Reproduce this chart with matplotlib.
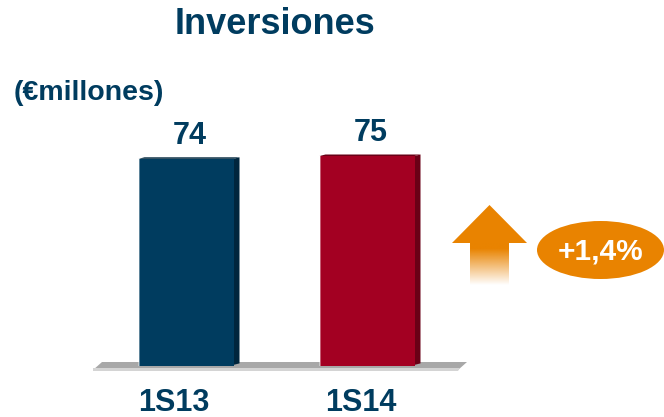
import numpy as np
import matplotlib.pyplot as plt
from matplotlib.patches import Polygon, Ellipse

periodos = ["1S13", "1S14"]
inversion = [74, 75]
colores = ["#003c5f", "#a30022"]
lados = ["#00263d", "#6a0016"]
variacion = "+1,4%"

AZUL = "#003c5f"
NARANJA = "#e98300"
FUENTE = ["Liberation Sans", "DejaVu Sans"]

fig = plt.figure(figsize=(6.64, 4.17), dpi=100)

# capa de decoracion en pixeles
ov = fig.add_axes([0, 0, 1, 1])
ov.axis("off")

# suelo gris
ov.add_patch(Polygon([(93, 370), (102, 362), (467, 362), (458, 370)],
                     closed=True, fc="#a8a8a8", ec="none"))
ov.add_patch(Polygon([(93, 368), (460, 368), (458, 371), (93, 371)],
                     closed=True, fc="#d4d4d4", ec="none"))

# ejes de las barras
bottom = (417 - 366) / 417
top_px = 110
ax = fig.add_axes([97 / 664, bottom, (465 - 97) / 664, (366 - top_px) / 417])
ppu = 2.8
ax.set_ylim(0, (366 - top_px) / ppu)
paso = 181
ax.set_xlim(-(186 - 97) / paso, 1 + (465 - 367) / paso)
ax.axis("off")

x = np.arange(len(periodos))
w = 95 / paso
ax.bar(x, inversion, width=w, color=colores, zorder=3)
dx = 6 / paso
dy = 1.5 / ppu
desplaz = [-12, -6]  # desplazamiento de la etiqueta inferior en px
for xi, v, c, s in zip(x, inversion, colores, lados):
    xl, xr = xi - w / 2, xi + w / 2
    ax.add_patch(Polygon([(xr, 0.4), (xr + dx, 0.4 + dy), (xr + dx, v + dy), (xr, v)],
                         closed=True, fc=s, ec="none", zorder=2))
    ax.add_patch(Polygon([(xl, v), (xl + dx, v + dy), (xr + dx, v + dy), (xr, v)],
                         closed=True, fc=s, ec="none", zorder=2))
    ax.plot([xl, xl], [0, v], color="white", alpha=0.45, lw=1.2, zorder=4)
    ax.text(xi + 4 / paso, v + 8.2, str(v), ha="center", va="center", fontsize=22,
            fontweight="bold", color=AZUL, family=FUENTE)
    ax.text(xi + desplaz[xi] / paso, -13.2, periodos[xi], ha="center", va="center",
            fontsize=22, fontweight="bold", color=AZUL, family=FUENTE,
            clip_on=False)

# flecha naranja con degradado
ov.add_patch(Polygon([(452, 243), (489.5, 205), (527, 243)], closed=True,
                     fc=NARANJA, ec="none"))
grad = np.ones((100, 1, 4))
grad[:, 0, :3] = np.array([0xe9, 0x83, 0x00]) / 255
t = np.linspace(0, 1, 100)
grad[:, 0, 3] = np.clip(1.15 - 1.2 * t, 0, 1)
ov.imshow(grad, extent=[470, 509, 287, 243], aspect="auto", interpolation="bilinear",
          zorder=2)

# elipse con variacion
ov.add_patch(Ellipse((600.5, 250), 127, 58, fc=NARANJA, ec="none"))
ov.text(600.5, 252, variacion, ha="center", va="center", fontsize=21.5,
        fontweight="bold", color="white", family=FUENTE)

ov.set_xlim(0, 664)
ov.set_ylim(417, 0)

# titulos
fig.text(275 / 664, 1 - 24 / 417, "Inversiones", ha="center", va="center",
         fontsize=26, fontweight="bold", color=AZUL, family=FUENTE)
fig.text(14 / 664, 1 - 93 / 417, "(€millones)", ha="left", va="center",
         fontsize=20.5, fontweight="bold", color=AZUL, family=FUENTE)

fig.savefig("out.png", dpi=100)
